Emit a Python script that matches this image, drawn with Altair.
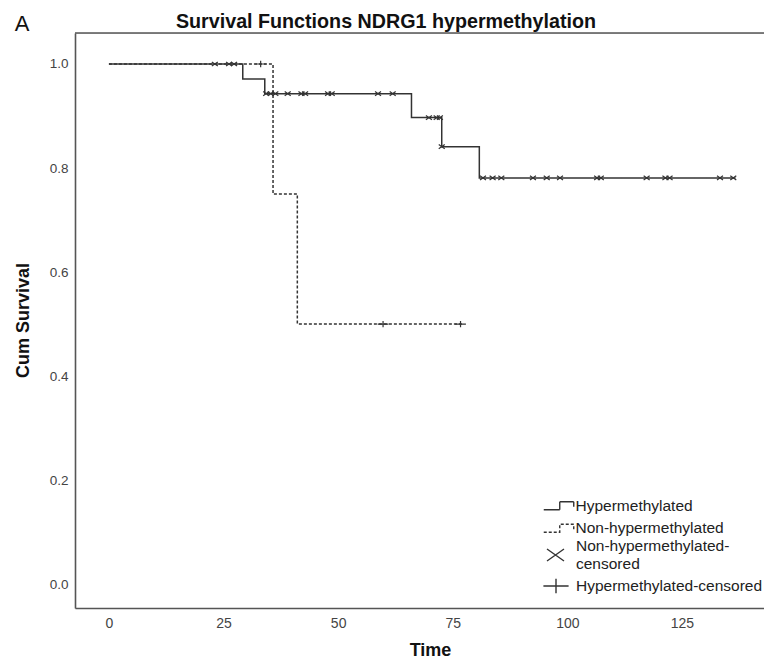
import altair as alt
import pandas as pd

GROUPS = ["Hypermethylated", "Non-hypermethylated"]
CENSOR_KINDS = ["Non-hypermethylated-censored", "Hypermethylated-censored"]
TITLE = "Survival Functions NDRG1 hypermethylation"
PANEL = "A"

# Kaplan-Meier step curves
hyper_time = [0, 29.2, 34.0, 66.0, 72.6, 80.8, 136.7]
hyper_surv = [1.0, 0.971, 0.943, 0.897, 0.841, 0.781, 0.781]
non_time = [0, 35.8, 41.1, 77.0]
non_surv = [1.0, 0.75, 0.50, 0.50]

# censored marks drawn as "x" (on the solid curve)
xcens_time = [23.1, 26.2, 27.3,
              34.3, 35.3, 36.3, 39.0, 42.0, 42.8, 47.8, 48.6, 58.7, 61.9,
              69.8, 71.5, 72.2,
              72.6,
              81.6, 83.7, 85.6, 92.5, 95.5, 98.4, 106.5, 107.3, 117.3, 121.4, 122.3, 133.3, 136.2]
xcens_surv = [1.0, 1.0, 1.0,
              0.943, 0.943, 0.943, 0.943, 0.943, 0.943, 0.943, 0.943, 0.943, 0.943,
              0.897, 0.897, 0.897,
              0.841,
              0.781, 0.781, 0.781, 0.781, 0.781, 0.781, 0.781, 0.781, 0.781, 0.781, 0.781, 0.781, 0.781]

# censored marks drawn as "+" (on the dashed curve)
plus_time = [33.1, 59.8, 76.7]
plus_surv = [1.0, 0.5, 0.5]

x_ticks = [0, 25, 50, 75, 100, 125]
y_ticks = [0.0, 0.2, 0.4, 0.6, 0.8, 1.0]

lines = pd.DataFrame({
    "time": hyper_time + non_time,
    "surv": hyper_surv + non_surv,
    "group": [GROUPS[0]] * len(hyper_time) + [GROUPS[1]] * len(non_time),
})
xcens = pd.DataFrame({"time": xcens_time, "surv": xcens_surv,
                      "kind": [CENSOR_KINDS[0]] * len(xcens_time)})
pcens = pd.DataFrame({"time": plus_time, "surv": plus_surv,
                      "kind": [CENSOR_KINDS[1]] * len(plus_time)})

W, H = 689, 575
FONT = "Liberation Sans"
INK = "#333333"

xs = alt.Scale(domain=[-7.4, 142.9], nice=False, zero=False)
ys = alt.Scale(domain=[-0.046, 1.0596], nice=False, zero=False)

x_axis = alt.Axis(values=x_ticks, title="Time", grid=False, ticks=False, tickSize=0,
                  labelPadding=8, labelFontSize=14, labelColor="#444444", labelFont=FONT,
                  labelFlush=False,
                  titleFontSize=18, titleFontWeight="bold", titleColor="#111111", titleFont=FONT,
                  titleX=355, titleY=47, titleBaseline="alphabetic", titleAlign="center",
                  domainColor="#555555", domainWidth=1.6)
y_axis = alt.Axis(values=y_ticks, format=".1f", title="Cum Survival", grid=False, ticks=False,
                  tickSize=0, labelPadding=7, labelFontSize=13.5, labelColor="#444444",
                  labelFont=FONT,
                  titleFontSize=18, titleFontWeight="bold", titleColor="#111111", titleFont=FONT,
                  titleX=-52, titleY=287, titleAngle=270, titleBaseline="middle",
                  titleAlign="center",
                  domainColor="#555555", domainWidth=1.6)

STEP_ICON = "M-3,0.8H0.2V-0.8H3V0.2"
X_PATH = "M-1,-0.7L1,0.7M-1,0.7L1,-0.7"
PLUS_PATH = "M-1.2,0H1.2M0,-0.7V0.7"

common_legend = dict(title=None, orient="none", labelFontSize=15.5, labelColor="#222222",
                     labelFont=FONT, labelLimit=400, padding=0,
                     symbolStrokeWidth=1.4, symbolStrokeColor=INK,
                     symbolFillColor="transparent")

line_legend = alt.Legend(legendX=476, legendY=465, symbolType=STEP_ICON, symbolSize=100,
                         labelOffset=9, rowPadding=5.5, **common_legend)

x_legend = alt.Legend(legendX=471, legendY=512.5, symbolSize=289, labelOffset=11,
                      labelBaseline="line-bottom",
                      labelExpr="['Non-hypermethylated-', 'censored']",
                      **common_legend)

plus_legend = alt.Legend(legendX=469.5, legendY=541.5, symbolSize=441, labelOffset=8.5,
                         **common_legend)

line = alt.Chart(lines).mark_line(interpolate="step-after", strokeWidth=1.5, color=INK).encode(
    x=alt.X("time:Q", scale=xs, axis=x_axis),
    y=alt.Y("surv:Q", scale=ys, axis=y_axis),
    strokeDash=alt.StrokeDash("group:N",
                              scale=alt.Scale(domain=GROUPS, range=[[1, 0], [3, 2]]),
                              legend=line_legend),
)

xpts = alt.Chart(xcens).mark_point(filled=False, size=36, strokeWidth=1.2, color=INK,
                                   opacity=1).encode(
    x=alt.X("time:Q", scale=xs), y=alt.Y("surv:Q", scale=ys),
    shape=alt.Shape("kind:N", scale=alt.Scale(domain=CENSOR_KINDS[:1], range=[X_PATH]),
                    legend=x_legend))

ppts = alt.Chart(pcens).mark_point(filled=False, size=81, strokeWidth=1.2, color=INK,
                                   opacity=1).encode(
    x=alt.X("time:Q", scale=xs), y=alt.Y("surv:Q", scale=ys),
    shape=alt.Shape("kind:N", scale=alt.Scale(domain=CENSOR_KINDS[1:], range=[PLUS_PATH]),
                    legend=plus_legend))

top_rule = alt.Chart(pd.DataFrame({"k": [0]})).mark_rule(color="#555555", strokeWidth=1.6).encode(
    y=alt.value(0), x=alt.value(0), x2=alt.value(W))

title_text = alt.Chart(pd.DataFrame({"t": [TITLE]})).mark_text(
    fontSize=19.7, fontWeight="bold", font=FONT, color="#111111", align="center",
    baseline="alphabetic").encode(text="t:N", x=alt.value(311), y=alt.value(-5))

panel_letter = alt.Chart(pd.DataFrame({"t": [PANEL]})).mark_text(
    fontSize=22, font=FONT, color="#111111", align="center", baseline="middle").encode(
    text="t:N", x=alt.value(-53), y=alt.value(-9))

chart = alt.layer(top_rule, line, xpts, ppts, title_text, panel_letter).resolve_scale(
    shape="independent").resolve_legend(shape="independent").properties(
    width=W, height=H,
    padding={"left": 67, "top": 25, "right": 0, "bottom": 53},
    autosize=alt.AutoSizeParams(type="none"),
).configure_view(stroke=None).configure(font=FONT)

chart.save("out.html", embed_options={"renderer": "svg", "actions": False})
